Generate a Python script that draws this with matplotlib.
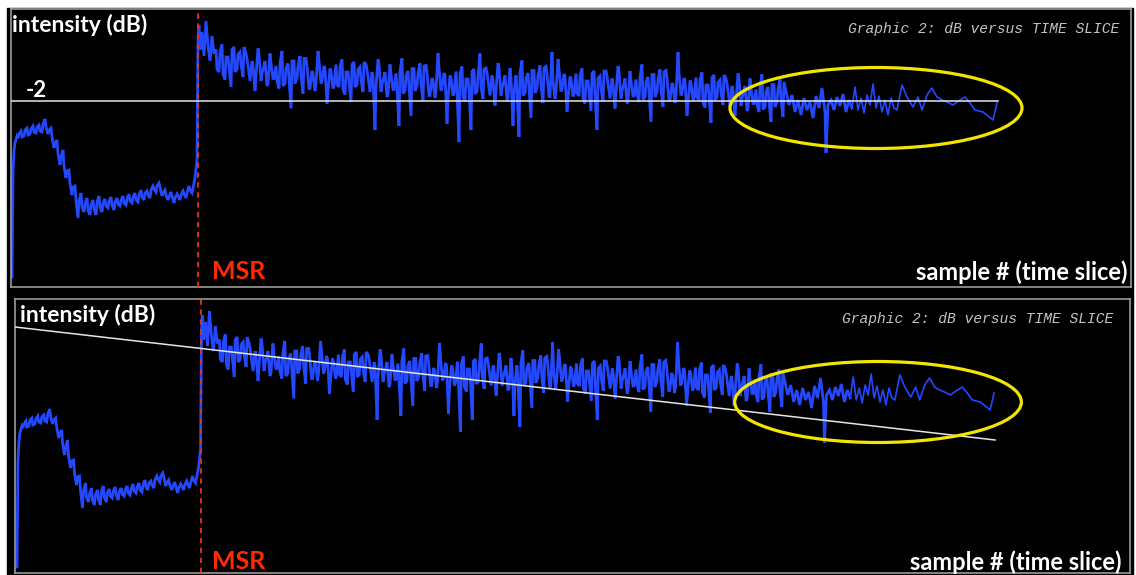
import numpy as np
import matplotlib
matplotlib.use('Agg')
import matplotlib.pyplot as plt
from matplotlib.patches import Rectangle, Ellipse

W, H = 1136, 575

# intensity (dB) per time slice
pre_x = [0, 1, 2, 3, 5] + list(range(6, 184, 3)) + [185]
pre_db = [-5.52, -3.40, -3.00, -2.84, -2.70,
          -2.74, -2.60, -2.70, -2.54, -2.66, -2.50, -2.64, -2.48, -2.62, -2.36,
          -2.66, -2.54, -2.94, -2.78, -3.28, -2.98, -3.54, -3.38, -3.88, -3.70,
          -4.34, -3.84, -4.22, -3.94, -4.28, -3.98, -4.28, -3.90, -4.22, -3.96,
          -4.14, -3.92, -4.18, -3.94, -4.10, -3.90, -4.08, -3.86, -4.04, -3.84,
          -4.02, -3.78, -3.98, -3.80, -3.94, -3.70, -3.82, -3.64, -3.90, -3.78,
          -3.98, -3.82, -4.04, -3.86, -3.98, -3.80, -3.94, -3.70, -3.84, -3.54,
          -3.18]
# in-between slices of the pre-MSR part
pre_b_db = [-2.66, -2.72, -2.58, -2.68, -2.56, -2.62, -2.52, -2.60, -2.46, -2.52,
            -2.58, -2.72, -2.86, -3.05, -3.12, -3.30, -3.40, -3.65, -3.72, -3.98,
            -4.00, -4.12, -4.06, -4.18, -4.08, -4.16, -4.02, -4.12, -4.04, -4.10,
            -4.00, -4.08, -4.02, -4.06, -3.98, -4.04, -3.96, -4.00, -3.92, -3.98,
            -3.88, -3.92, -3.84, -3.88, -3.78, -3.76, -3.70, -3.72, -3.84, -3.88,
            -3.92, -3.90, -3.94, -3.90, -3.88, -3.86, -3.84, -3.78, -3.74]
pre_b_x = list(range(7, 7 + 3 * len(pre_b_db), 3))

peak_x = [186, 187, 188, 190, 192, 194, 196, 198, 200, 202]
peak_db = [-0.78, -0.48, -0.98, -0.62, -1.10, -0.40, -0.90, -1.20, -0.70, -1.05]

dense_db = [
    -0.97, -1.42, -0.87, -1.57, -1.12, -1.72, -0.92, -1.37, -1.02, -1.52,
    -1.05, -1.45, -1.20, -1.80, -0.95, -1.60, -1.30, -1.70, -1.05, -1.55,
    -1.30, -1.75, -1.00, -1.65, -1.25, -2.15, -1.20, -1.55, -1.10, -1.85,
    -1.15, -1.75, -1.40, -1.80, -1.00, -1.65, -1.30, -2.05, -1.35, -1.75,
    -1.27, -1.72, -1.17, -1.87, -1.42, -2.02, -1.22, -1.67, -1.32, -1.82,
    -1.27, -1.67, -1.42, -2.58, -1.17, -1.82, -1.52, -1.92, -1.27, -1.77,
    -1.45, -2.50, -1.15, -1.80, -1.40, -2.30, -1.35, -1.70, -1.25, -2.00,
    -1.29, -1.89, -1.54, -1.94, -1.04, -1.79, -1.44, -2.45, -1.49, -1.89,
    -1.41, -2.82, -1.31, -2.01, -1.56, -2.58, -1.36, -1.81, -1.05, -1.96,
    -1.34, -1.74, -1.49, -2.09, -1.24, -1.89, -1.59, -1.99, -1.34, -2.50,
    -1.49, -2.72, -1.19, -1.84, -1.44, -2.34, -1.39, -1.74, -1.29, -2.04,
    -1.31, -1.91, -1.02, -1.96, -1.16, -1.81, -1.46, -2.21, -1.51, -1.91,
    -1.45, -1.90, -1.35, -2.05, -1.60, -2.20, -1.40, -2.58, -1.50, -2.00,
    -1.40, -1.80, -1.55, -2.15, -1.30, -1.95, -1.65, -2.05, -1.40, -1.90,
    -1.57, -2.02, -1.27, -1.92, -1.52, -2.42, -1.47, -1.82, -1.37, -2.12,
    -1.39, -1.99, -1.64, -2.04, -1.02, -1.89, -1.54, -2.29, -1.59, -1.99,
    -1.53, -1.98, -1.43, -2.13, -1.68, -2.44, -1.48, -1.93, -1.58, -2.08,
    -1.55, -1.95, -1.70, -2.30, -1.45, -2.10, -1.80, -2.20, -1.55, -2.05,
    -1.77, -2.22, -1.47, -2.12, -1.72, -2.42, -1.67, -2.02, -1.57, -2.32]
dense_x = list(range(204, 204 + 3 * len(dense_db), 3))
# in-between slices of the post-MSR part
dense_b_db = [
    -1.37, -1.02, -1.47, -1.12, -1.32, -0.97, -1.42, -1.07, -1.27, -0.92,
    -1.15, -1.60, -1.30, -1.50, -1.05, -1.45, -1.20, -1.65, -1.25, -1.55,
    -1.60, -1.25, -1.70, -1.35, -1.55, -1.20, -1.65, -1.30, -1.50, -1.15,
    -1.30, -1.75, -1.45, -1.65, -1.20, -1.60, -1.35, -1.80, -1.40, -1.70,
    -1.67, -1.32, -1.77, -1.42, -1.62, -1.27, -1.72, -1.37, -1.57, -1.22,
    -1.37, -1.82, -1.52, -1.72, -1.27, -1.67, -1.42, -1.87, -1.47, -1.77,
    -1.75, -1.40, -1.85, -1.50, -1.70, -1.35, -1.80, -1.45, -1.65, -1.30,
    -1.44, -1.89, -1.59, -1.79, -1.34, -1.74, -1.49, -1.94, -1.54, -1.84,
    -1.81, -1.46, -1.91, -1.56, -1.76, -1.41, -1.86, -1.51, -1.71, -1.36,
    -1.44, -1.89, -1.59, -1.79, -1.34, -1.74, -1.49, -1.94, -1.54, -1.84,
    -1.79, -1.44, -1.89, -1.54, -1.74, -1.39, -1.84, -1.49, -1.69, -1.34,
    -1.46, -1.91, -1.61, -1.81, -1.36, -1.76, -1.51, -1.96, -1.56, -1.86,
    -1.85, -1.50, -1.95, -1.60, -1.80, -1.45, -1.90, -1.55, -1.75, -1.40,
    -1.50, -1.95, -1.65, -1.85, -1.40, -1.80, -1.55, -2.00, -1.60, -1.90,
    -1.87, -1.52, -1.97, -1.62, -1.82, -1.47, -1.92, -1.57, -1.77, -1.42,
    -1.54, -1.99, -1.69, -1.89, -1.44, -1.84, -1.59, -2.04, -1.64, -1.94,
    -1.93, -1.58, -2.03, -1.68, -1.88, -1.53, -1.98, -1.63, -1.83, -1.48,
    -1.65, -2.10, -1.80, -2.00, -1.55, -1.95, -1.70, -2.15, -1.75, -2.05,
    -2.07, -1.72, -2.17, -1.82, -2.02, -1.67, -2.12, -1.77, -1.97, -1.62]
dense_b_x = list(range(205, 205 + 3 * len(dense_b_db), 3))

tail_x = [777, 780, 783, 786, 789, 792, 795, 798, 801, 804, 807, 810, 813, 814,
          816, 819, 822, 825, 828, 831, 834, 837, 840, 843, 846, 849, 852, 855,
          858, 861, 864, 867, 870, 873, 876, 879, 882, 885, 890, 895, 901, 906,
          910, 915, 920, 925, 930, 935, 941, 948, 953, 958, 963, 971, 981, 985]
tail_db = [-2.08, -1.88, -2.22, -1.98, -2.28, -1.94, -2.18, -2.02, -2.34, -1.90,
           -2.14, -1.74, -2.22, -3.04, -2.08, -1.98, -2.18, -1.92, -2.10, -1.86,
           -2.22, -1.98, -2.14, -1.72, -2.18, -1.94, -2.24, -1.88, -2.08, -1.66,
           -2.14, -1.90, -2.22, -1.98, -2.28, -1.94, -2.14, -2.18, -1.68, -1.92,
           -2.12, -1.92, -2.18, -1.88, -1.74, -1.92, -1.98, -2.02, -2.08, -1.98,
           -1.92, -2.04, -2.18, -2.22, -2.38, -2.04]

msr_sample = 186
ref_level = -2.0
trend_x = [-2, 986]
trend_db = [-0.72, -2.98]

samples = np.array(pre_x + pre_b_x + peak_x + dense_x + dense_b_x + tail_x)
intensity = np.array(pre_db + pre_b_db + peak_db + dense_db + dense_b_db + tail_db)
order = np.argsort(samples, kind='stable')
samples, intensity = samples[order], intensity[order]
dense = samples <= 840
sparse = samples >= 840

BLUE = '#2448ff'
FRAME = '#9a9a9a'


def px(x, y):
    return x / W, 1 - y / H


fig = plt.figure(figsize=(W / 100, H / 100), dpi=100, facecolor='white')
fig.patches.append(Rectangle(px(7, 575), (1133 - 7) / W, (575 - 8) / H,
                             transform=fig.transFigure, color='black', zorder=-10))


def panel(rect, xlim, ylim):
    l, t, r, b = rect
    ax = fig.add_axes([l / W, 1 - b / H, (r - l) / W, (b - t) / H])
    ax.set_zorder(1)
    ax.set_facecolor('black')
    ax.set_xlim(xlim)
    ax.set_ylim(ylim)
    ax.set_xticks([])
    ax.set_yticks([])
    for s in ax.spines.values():
        s.set_color(FRAME)
        s.set_linewidth(1.2)
    ax.plot(samples[dense], intensity[dense], color=BLUE, lw=2.0,
            solid_joinstyle='miter', zorder=2)
    ax.plot(samples[sparse], intensity[sparse], color=BLUE, lw=1.2, zorder=2)
    ax.axvline(msr_sample, color='#e8351a', lw=1.3, ls=(0, (3, 2.5)), zorder=3)
    return ax


ax1 = panel((11, 9, 1131, 287), (-1, 1119), (-5.72, -0.16))
ax1.plot([-1, 986], [ref_level, ref_level], color='#e6e6e6', lw=1.1, zorder=4)
ax1.add_patch(Ellipse((864, -2.14), 292, 1.62, fill=False, ec='#f2e600', lw=2.3, zorder=5))

ax2 = panel((15, 299, 1130, 573), (-2, 1122), (-5.64, -0.16))
ax2.plot(trend_x, trend_db, color='#e6e6e6', lw=1.1, zorder=4)
ax2.add_patch(Ellipse((868, -2.22), 289, 1.62, fill=False, ec='#f2e600', lw=2.3, zorder=5))

lab = dict(color='white', fontweight='bold', family='Lato', zorder=5)
for dy in (0, 290):
    x0 = 12 if dy == 0 else 20
    fig.text(*px(x0, 14 + dy), 'intensity (dB)', fontsize=16.5, va='top', ha='left', **lab)
    fig.text(*px(1128 if dy == 0 else 1121, 284 + dy), 'sample # (time slice)',
             fontsize=17, va='bottom', ha='right', **lab)
    fig.text(*px(212, 283 + dy), 'MSR', fontsize=18, va='bottom', ha='left',
             color='#ff2a00', fontweight='bold', family='Lato', zorder=5)
    fig.text(*px(1119 if dy == 0 else 1113, 36 + dy), 'Graphic 2: dB versus TIME SLICE',
             fontsize=10.5, va='bottom', ha='right', color='#c4c4c4',
             family='Liberation Mono', style='italic', zorder=5)
fig.text(*px(26, 101), '-2', fontsize=16, va='bottom', ha='left', **lab)

fig.savefig('out.png', dpi=100, facecolor='white')
